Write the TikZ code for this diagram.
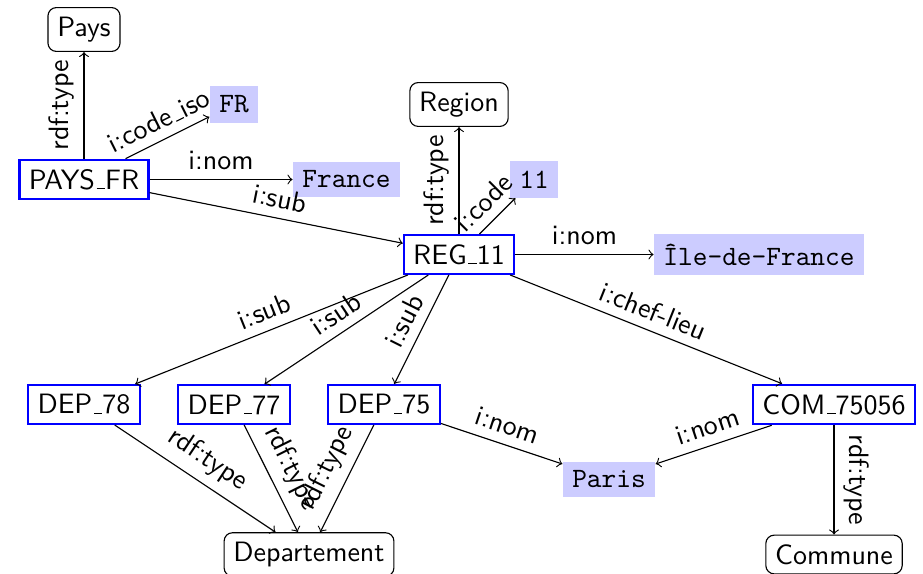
\documentclass[tikz,border=0pt]{standalone}
% short baseline underscore, as in the classic OT1 definition
\newcommand{\usc}{\leavevmode\kern.06em\vbox{\hrule width.3em}}
\begin{document}
\begin{tikzpicture}[x=26.79pt, y=26.79pt, font=\sffamily,
  resource/.style={draw=blue, thick},
  klass/.style={draw, rounded corners=3pt},
  literal/.style={fill=blue!20, font=\ttfamily},
  rel/.style={->},
  lbl/.style={sloped, above, midway, font=\sffamily}]
\useasboundingbox (-1.12,0.3933) rectangle (11.1867,-7.2467);

% resources
\node[resource] (paysfr) at (0,-2) {PAYS\usc FR};
\node[resource] (reg11)  at (5,-3) {REG\usc 11};
\node[resource] (dep78)  at (0,-5) {DEP\usc 78};
\node[resource] (dep77)  at (2,-5) {DEP\usc 77};
\node[resource] (dep75)  at (4,-5) {DEP\usc 75};
\node[resource] (com)    at (10,-5) {COM\usc 75056};

% classes
\node[klass] (pays)   at (0,0)  {Pays};
\node[klass] (region) at (5,-1) {Region};
\node[klass] (dept)   at (3,-7) {Departement};
\node[klass] (commune) at (10,-7) {Commune};

% literals
\node[literal] (fr)     at (2,-1)   {FR};
\node[literal] (france) at (3.5,-2) {France};
\node[literal] (code)   at (6,-2)   {11};
\node[literal] (idf)    at (9,-3)   {Île-de-France};
\node[literal] (paris)  at (7,-6)   {Paris};

% country
\draw[rel] (paysfr) -- node[lbl] {rdf:type} (pays);
\draw[rel] (paysfr) -- node[lbl] {i:code\usc iso} (fr);
\draw[rel] (paysfr) -- node[lbl] {i:nom} (france);
\draw[rel] (paysfr) -- node[lbl] {i:sub} (reg11);

% region
\draw[rel] (reg11) -- node[lbl] {rdf:type} (region);
\draw[rel] (reg11) -- node[lbl] {i:code} (code);
\draw[rel] (reg11) -- node[lbl] {i:nom} (idf);
\draw[rel] (reg11) -- node[lbl] {i:sub} (dep78);
\draw[rel] (reg11) -- node[lbl] {i:sub} (dep77);
\draw[rel] (reg11) -- node[lbl] {i:sub} (dep75);
\draw[rel] (reg11) -- node[lbl] {i:chef-lieu} (com);

% departements
\draw[rel] (dep78) -- node[lbl] {rdf:type} (dept);
\draw[rel] (dep77) -- node[lbl] {rdf:type} (dept);
\draw[rel] (dep75) -- node[lbl] {rdf:type} (dept);
\draw[rel] (dep75) -- node[lbl] {i:nom} (paris);

% commune
\draw[rel] (com) -- node[lbl] {i:nom} (paris);
\draw[rel] (com) -- node[lbl] {rdf:type} (commune);
\end{tikzpicture}
\end{document}
